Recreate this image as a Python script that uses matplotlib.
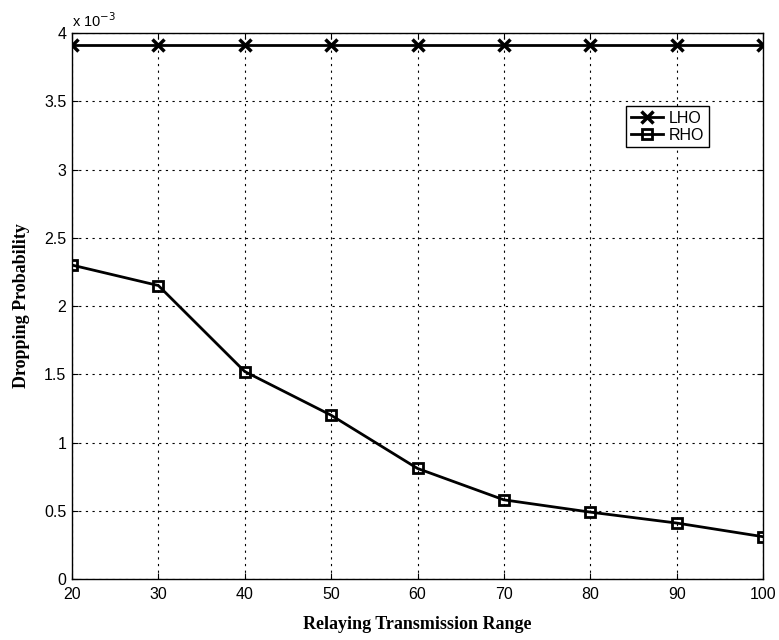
import matplotlib
matplotlib.use("Agg")
import matplotlib.pyplot as plt
import matplotlib.ticker as ticker

# data (dropping probability in units of 1e-3)
ranges = [20, 30, 40, 50, 60, 70, 80, 90, 100]
lho = [3.91, 3.91, 3.91, 3.91, 3.91, 3.91, 3.91, 3.91, 3.91]
rho = [2.30, 2.15, 1.52, 1.20, 0.81, 0.58, 0.49, 0.41, 0.31]

plt.rcParams['font.family'] = ['Liberation Sans', 'DejaVu Sans']

fig = plt.figure(figsize=(7.79, 6.40), dpi=100, facecolor="white")
ax = fig.add_axes([0.0924, 0.0953, 0.8871, 0.8531])

ax.plot(ranges, lho, color="black", lw=2, marker="x", ms=9, mew=2.5, label="LHO")
ax.plot(ranges, rho, color="black", lw=2, marker="s", ms=6.5, mew=2,
        mfc="none", label="RHO")

ax.set_xlim(20, 100)
ax.set_ylim(0, 4)
ax.xaxis.set_major_locator(ticker.MultipleLocator(10))
ax.yaxis.set_major_locator(ticker.MultipleLocator(0.5))
ax.yaxis.set_major_formatter(ticker.FuncFormatter(lambda v, p: f"{v:g}"))

# grid
ax.grid(True, ls=(0, (2, 4)), lw=0.8, color="black")
ax.tick_params(direction="in", length=4, labelsize=11.5, color="black",
               top=True, right=True)
ax.tick_params(axis="x", pad=6)
ax.tick_params(axis="y", pad=4)
for s in ax.spines.values():
    s.set_linewidth(1.0)

ax.text(0.0, 1.006, r"x 10$^{-3}$", transform=ax.transAxes, fontsize=10.5,
        ha="left", va="bottom")

ax.set_xlabel("Relaying Transmission Range", fontfamily="Liberation Serif",
              fontweight="bold", fontsize=13, labelpad=10)
ax.set_ylabel("Dropping Probability", fontfamily="Liberation Serif",
              fontweight="bold", fontsize=13, labelpad=10)

leg = ax.legend(loc="upper right", bbox_to_anchor=(0.922, 0.866), fontsize=11.5,
                frameon=True, fancybox=False, edgecolor="black", framealpha=1,
                handlelength=2.0, handletextpad=0.4, borderpad=0.3,
                labelspacing=0.1, borderaxespad=0)
leg.get_frame().set_linewidth(1.0)

fig.savefig("out.png", dpi=100, facecolor="white")
